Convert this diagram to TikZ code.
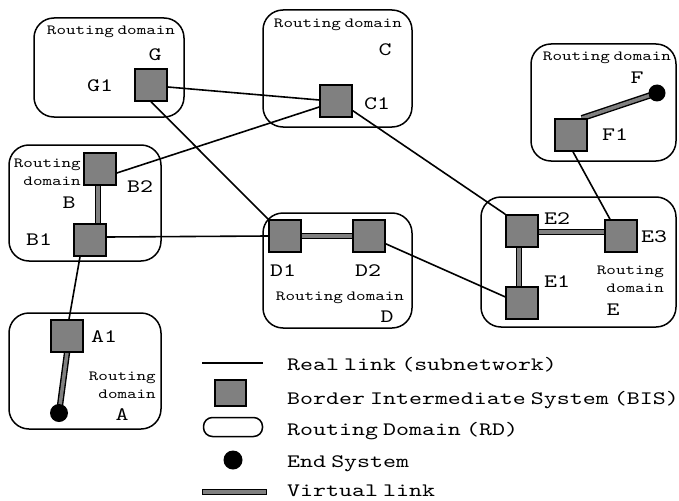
\documentclass[tikz,border=0pt]{standalone}
\usepackage{fontspec}
\newfontfamily\lm{lmmono10-regular}[Extension=.otf,FakeStretch=1.3,WordSpace=0.4]
\definecolor{bisgray}{HTML}{808080}
\pgfdeclarelayer{boxes}
\pgfdeclarelayer{links}
\pgfsetlayers{boxes,links,main}
\begin{document}
\begin{tikzpicture}[x=1pt,y=-1pt,
  bis/.style={draw=black, fill=bisgray, line width=1.6pt, minimum size=32pt, inner sep=0pt},
  rd/.style={draw=black, line width=1.5pt, rounded corners=20pt, inner sep=0pt},
  es/.style={circle, fill=black, minimum size=17pt, inner sep=0pt},
  rlink/.style={line width=1.6pt},
  vlink/.style={draw=black, line width=1.4pt, double=bisgray, double distance=3.5pt},
  lbl/.style={font=\lm\fontsize{19}{22}\selectfont, inner sep=0pt},
  sml/.style={font=\lm\fontsize{14}{18}\selectfont, inner sep=0pt, align=right},
  leg/.style={font=\lm\fontsize{19}{22}\selectfont, inner sep=0pt, anchor=base west},
]
\useasboundingbox (0,0) rectangle (679,500);

% routing domains
\begin{pgfonlayer}{boxes}
\node[rd, minimum width=150pt, minimum height=99pt]  (rdG) at (109,67.5) {};
\node[rd, minimum width=149pt, minimum height=117pt] (rdC) at (337.5,68.5) {};
\node[rd, minimum width=145pt, minimum height=117pt] (rdF) at (603.5,102.5) {};
\node[rd, minimum width=152pt, minimum height=116pt] (rdB) at (85,203) {};
\node[rd, minimum width=149pt, minimum height=115pt] (rdD) at (337.5,270.5) {};
\node[rd, minimum width=195pt, minimum height=130pt] (rdE) at (578.5,262) {};
\node[rd, minimum width=152pt, minimum height=116pt] (rdA) at (85,371) {};
\node[rd, rounded corners=9pt, minimum width=59pt, minimum height=19pt] (legRD) at (233,427) {};
\end{pgfonlayer}

% border intermediate systems
\node[bis] (G)  at (151,85) {};
\node[bis] (C1) at (336,101) {};
\node[bis] (F1) at (571,135) {};
\node[bis] (B2) at (100,169) {};
\node[bis] (B1) at (90,240) {};
\node[bis] (D1) at (285,236) {};
\node[bis] (D2) at (369,236) {};
\node[bis] (E2) at (522,231) {};
\node[bis] (E3) at (621,236) {};
\node[bis] (E1) at (522,303) {};
\node[bis] (A1) at (67,336) {};

% end systems
\node[es] (esF) at (657,93) {};
\node[es, minimum size=18pt] (esA) at (59,413) {};

% links
\begin{pgfonlayer}{links}
\draw[rlink] ([yshift=-2pt]G.east) -- ([yshift=1pt]C1.west);
\draw[rlink] (G.south) -- (D1.north west);
\draw[rlink] ([yshift=-4pt]B2.east) -- ([yshift=-6pt]C1.west);
\draw[rlink] ([yshift=3pt]B1.east) -- (D1.west);
\draw[rlink] ([xshift=-10pt]B1.south) -- ([xshift=2pt]A1.north);
\draw[rlink] (C1.-30) -- (E2.north west);
\draw[rlink] (D2.-25) -- (E1.160);
\draw[rlink] ([xshift=2pt]F1.south) -- ([xshift=-11pt]E3.north);
\draw[vlink] ([xshift=-2pt]B2.south) -- ([xshift=8pt]B1.north);
\draw[vlink] (D1.east) -- (D2.west);
\draw[vlink] ([yshift=-1pt]E2.east) -- ([yshift=-1pt]E2.east -| E3.west);
\draw[vlink] ([xshift=-3pt]E2.south) -- ([xshift=-3pt]E1.north);
\draw[vlink] (A1.south) -- (esA.center);
\draw[vlink] ([xshift=-6pt]F1.north east) -- (esF.center);
\end{pgfonlayer}

% domain labels
\node[sml] (tG) at (111,32) {Routing domain};
\node[sml] (tC) at (338,25) {Routing domain};
\node[sml] (tF) at (607,58) {Routing domain};
\node[sml] (tD) at (340,298) {Routing domain};
\node[sml, anchor=east] (tB) at (81,172) {Routing\\domain};
\node[sml, anchor=east] (tA) at (156,385.5) {Routing\\domain};
\node[sml, anchor=east] (tE) at (664,279) {Routing\\domain};

\node[lbl] (lG) at (155,55) {G};
\node[lbl] (lC) at (385,50) {C};
\node[lbl] (lF) at (637,78) {F};
\node[lbl] (lB) at (69,203) {B};
\node[lbl] (lD) at (387,317) {D};
\node[lbl] (lE) at (613,310) {E};
\node[lbl] (lA) at (122,415) {A};

\node[lbl] (lG1) at (100,86) {G1};
\node[lbl] (lC1) at (377,104) {C1};
\node[lbl] (lF1) at (615,135) {F1};
\node[lbl] (lB2) at (140,187) {B2};
\node[lbl] (lB1) at (39,240) {B1};
\node[lbl] (lD1) at (283,271) {D1};
\node[lbl] (lD2) at (368,271) {D2};
\node[lbl] (lE2) at (557,219) {E2};
\node[lbl] (lE3) at (654,237) {E3};
\node[lbl] (lE1) at (557,282) {E1};
\node[lbl] (lA1) at (104,337) {A1};

% legend
\coordinate (legL1) at (202,363);
\coordinate (legL2) at (263,363);
\draw[rlink] (legL1) -- (legL2);
\node[bis, minimum width=31pt, minimum height=26pt] (legBIS) at (230.5,393) {};
\node[es, minimum size=19pt] (legES) at (233,460) {};
\node[draw=black, fill=bisgray, line width=1.2pt, minimum width=64pt, minimum height=5pt, inner sep=0pt] (legVL) at (234.5,492) {};

\node[leg] (txL) at (287,370) {Real link (subnetwork)};
\node[leg] (txB) at (287,404) {Border Intermediate System (BIS)};
\node[leg] (txR) at (287,435) {Routing Domain (RD)};
\node[leg] (txE) at (287,467) {End System};
\node[leg] (txV) at (287,496) {Virtual link};
\end{tikzpicture}
\end{document}
